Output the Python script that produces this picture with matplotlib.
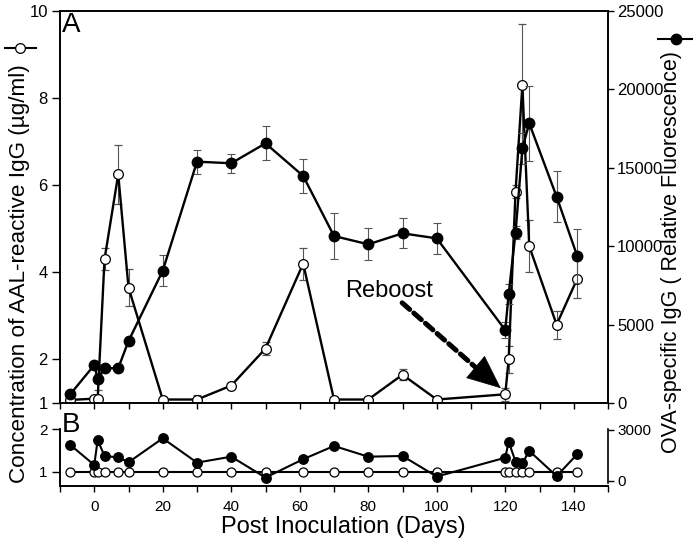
import matplotlib
matplotlib.use('Agg')
import matplotlib.pyplot as plt
from matplotlib.lines import Line2D
import numpy as np

plt.rcParams['font.family'] = ['Liberation Sans', 'DejaVu Sans']

# ---------------- data ----------------
days = [-7, 0, 1, 3, 7, 10, 20, 30, 40, 50, 61, 70, 80, 90, 100,
        120, 121, 123, 125, 127, 135, 141]

# Panel A: AAL-reactive IgG (ug/ml), left axis (open circles)
aal_A = [1.07, 1.1, 1.1, 4.3, 6.25, 3.65, 1.08, 1.08, 1.4, 2.25, 4.2, 1.08,
         1.08, 1.65, 1.08, 1.2, 2.0, 5.85, 8.3, 4.6, 2.8, 3.85]
aal_A_err = [0.03, 0.05, 0.2, 0.25, 0.67, 0.43, 0.05, 0.1, 0.07, 0.15, 0.37,
             0.05, 0.05, 0.12, 0.05, 0.15, 0.3, 0.15, 1.4, 0.6, 0.32, 0.45]

# Panel A: OVA-specific IgG (relative fluorescence), right axis (filled)
ova_A = [560, 2420, 1550, 2220, 2220, 3950, 8440, 15390, 15290, 16560, 14480,
         10650, 10120, 10820, 10500, 4650, 6950, 10860, 16240, 17840, 13160, 9380]
ova_A_err = [150, 250, 300, 200, 150, 250, 1000, 770, 600, 1080, 1080, 1450,
             1020, 960, 1000, 500, 640, 400, 1000, 2400, 1640, 1700]

# Panel B (controls)
aal_B = [1.0, 1.0, 1.0, 1.0, 1.0, 1.0, 1.0, 1.0, 1.0, 1.0, 1.0, 1.0, 1.0,
         1.0, 1.0, 1.0, 1.0, 1.0, 1.0, 1.0, 1.0, 1.0]
ova_B = [2120, 940, 2410, 1470, 1390, 1100, 2510, 1080, 1430, 200, 1280, 2060,
         1430, 1470, 260, 1370, 2310, 1140, 1040, 1770, 290, 1570]

W, H = 696, 545


def fx(px):
    return px / W


def fy(py):
    return 1 - py / H


fig = plt.figure(figsize=(W / 100, H / 100), dpi=100)
fig.patch.set_facecolor('white')

L, R = 60, 608
# ---------------- Panel A ----------------
axA = fig.add_axes([fx(L), fy(403), fx(R) - fx(L), fy(11) - fy(403)])
axA2 = axA.twinx()

axA.errorbar(days, aal_A, yerr=aal_A_err, fmt='-o', color='black', lw=1.7,
             ms=7, mfc='white', mec='black', mew=0.9, ecolor='#555555',
             elinewidth=0.8, capsize=3.2, capthick=0.8)
axA2.errorbar(days, ova_A, yerr=ova_A_err, fmt='-o', color='black', lw=1.7,
              ms=7.5, mfc='black', mec='black', ecolor='#555555',
              elinewidth=0.8, capsize=3.2, capthick=0.8)

axA.set_xlim(-10, 150)
axA.set_xticks(np.arange(-10, 151, 10))
axA.tick_params(axis='x', labelbottom=False, direction='out', length=4.5, width=1)
axA.set_ylim(1, 10)
axA.set_yticks([1, 2, 4, 6, 8, 10])
axA.tick_params(axis='y', direction='out', length=5.8, width=1, labelsize=12, pad=3)
axA2.set_ylim(0, 25000)
axA2.set_yticks(np.arange(0, 25001, 5000))
axA2.tick_params(axis='y', direction='out', length=4.5, width=1, labelsize=12, pad=2)
for ax in (axA, axA2):
    for s in ax.spines.values():
        s.set_linewidth(1.2)

axA.text(86, 3.44, 'Reboost', ha='center', va='baseline', fontsize=17)
axA.annotate('', xy=(111.6, 1.80), xytext=(89.9, 3.30),
             arrowprops=dict(arrowstyle='-', lw=3.6, linestyle=(0, (2.0, 1.1)),
                             color='black', shrinkA=0, shrinkB=0))
axA.annotate('', xy=(118.7, 1.34), xytext=(110.5, 1.88),
             arrowprops=dict(arrowstyle='-|>,head_length=1.15,head_width=0.5',
                             mutation_scale=20, lw=0.5, color='black',
                             shrinkA=0, shrinkB=0))

# ---------------- Panel B ----------------
axB = fig.add_axes([fx(L), fy(486), fx(R) - fx(L), fy(429.3) - fy(486)])
axB2 = axB.twinx()
axB.plot(days, aal_B, '-o', color='black', lw=1.5, ms=6.5, mfc='white',
         mec='black', mew=0.9)
axB2.plot(days, ova_B, '-o', color='black', lw=1.5, ms=6.8, mfc='black',
          mec='black')
axB.set_xlim(-10, 150)
axB.set_xticks(np.arange(-10, 151, 10))
axB.set_xticklabels(['' if (t % 20) else str(t) for t in range(-10, 151, 10)])
axB.tick_params(axis='x', direction='out', length=4, width=1, labelsize=11, pad=6)
axB.set_ylim(0.66, 2.0)
axB.set_yticks([1, 2])
axB.tick_params(axis='y', direction='out', length=5.8, width=1, labelsize=11, pad=3)
axB2.set_ylim(-295, 3040)
axB2.set_yticks([0, 3000])
axB2.tick_params(axis='y', direction='out', length=4.5, width=1, labelsize=11, pad=2)
axB.spines['top'].set_visible(False)
axB.spines['right'].set_visible(False)
axB2.spines['top'].set_visible(False)
axB2.spines['right'].set_bounds(-100, 3040)
for ax in (axB, axB2):
    for s in ax.spines.values():
        s.set_linewidth(1.2)

# ---------------- labels ----------------
fig.text(fx(62), fy(12), 'A', ha='left', va='top', fontsize=20)
fig.text(fx(62), fy(412), 'B', ha='left', va='top', fontsize=20)
fig.text(fx(343), fy(527), 'Post Inoculation (Days)', ha='center',
         va='center', fontsize=17)
fig.text(fx(20), fy(274), 'Concentration of AAL-reactive IgG (\u00b5g/ml)',
         rotation=90, ha='center', va='center', fontsize=16.2)
fig.text(fx(672), fy(251.5), 'OVA-specific IgG ( Relative Fluorescence)',
         rotation=90, ha='center', va='center', fontsize=15.5)

# axis-label legend symbols
fig.add_artist(Line2D([fx(5), fx(36)], [fy(48), fy(48)], transform=fig.transFigure,
                      color='black', lw=1.5))
fig.add_artist(Line2D([fx(20)], [fy(48)], transform=fig.transFigure, marker='o',
                      ms=7, mfc='white', mec='black', mew=0.9, linestyle='none'))
fig.add_artist(Line2D([fx(658), fx(692)], [fy(39), fy(39)], transform=fig.transFigure,
                      color='black', lw=1.5))
fig.add_artist(Line2D([fx(676)], [fy(39)], transform=fig.transFigure, marker='o',
                      ms=7.5, mfc='black', mec='black', linestyle='none'))

fig.savefig('out.png', dpi=100)
